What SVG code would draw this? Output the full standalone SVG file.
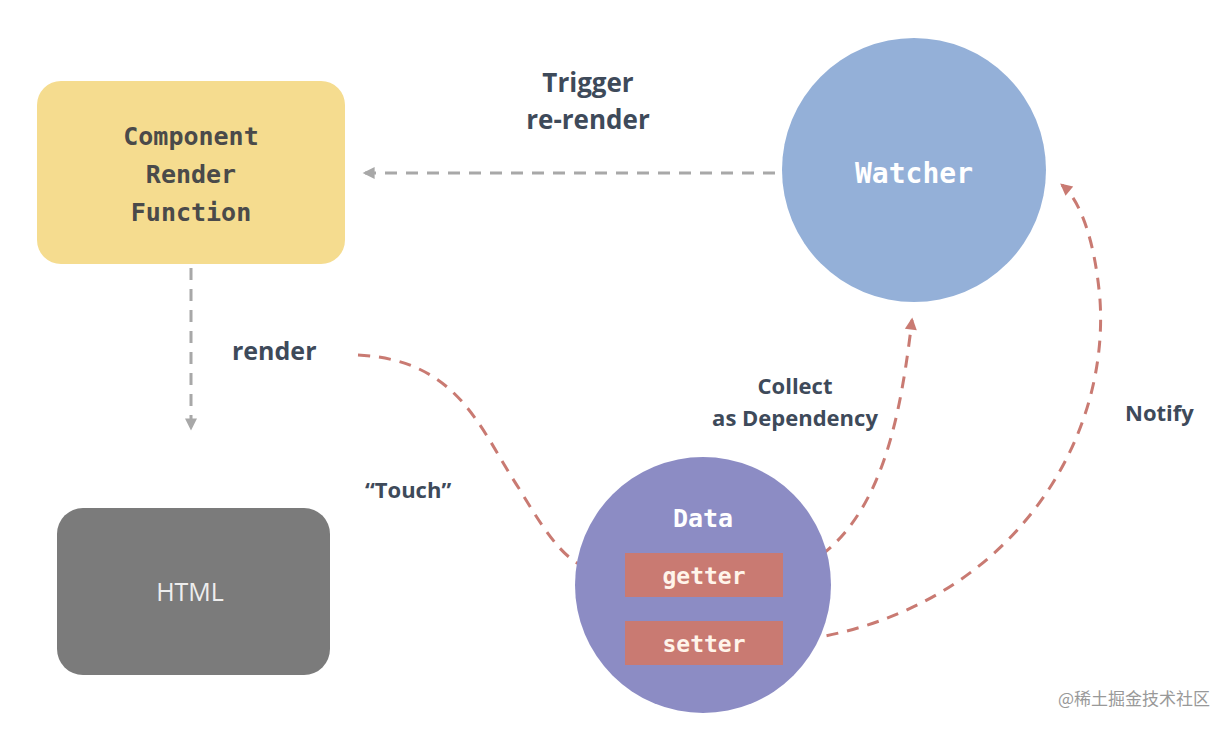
<svg xmlns="http://www.w3.org/2000/svg" width="1230" height="730" viewBox="0 0 1230 730">
<style>
.mono{font-family:"DejaVu Sans Mono","Liberation Mono",monospace;font-weight:bold}
.lbl{font-family:"Open Sans","Liberation Sans",sans-serif;font-weight:bold;fill:#3e4a5a}
.red{fill:none;stroke:#c97a72;stroke-width:3;stroke-dasharray:12 9}
.gray{fill:none;stroke:#a8a8a8;stroke-width:3;stroke-dasharray:12 9}
</style>
<defs>
<marker id="ar" viewBox="0 0 10 10" refX="8" refY="5" markerWidth="6" markerHeight="6" orient="auto" markerUnits="userSpaceOnUse" style="overflow:visible"><path d="M0,0 L10,5 L0,10 z" fill="#c97a72" transform="scale(2) translate(-4,-2.5)"/></marker>
<marker id="ag" viewBox="0 0 10 10" refX="8" refY="5" markerWidth="6" markerHeight="6" orient="auto" markerUnits="userSpaceOnUse" style="overflow:visible"><path d="M0,0 L10,5 L0,10 z" fill="#a8a8a8" transform="scale(2) translate(-4,-2.5)"/></marker>
</defs>
<rect width="1230" height="730" fill="#ffffff"/>
<g id="connectors">
<path class="gray" d="M775,173 L365,173" marker-end="url(#ag)"/>
<path class="gray" d="M191,268 L191,428" marker-end="url(#ag)"/>
<path class="red" d="M358,355 C460,360 480,430 520,490 C550,540 570,570 605,572" marker-end="url(#ar)"/>
<path class="red" d="M785,575 C880,540 900,420 912,320" marker-end="url(#ar)"/>
<path class="red" d="M785,642 C1000,620 1110,450 1100,300 C1095,240 1080,200 1062,185" marker-end="url(#ar)"/>
</g>
<g id="component">
<rect x="37" y="81" width="308" height="183" rx="24" fill="#f5dc8f"/>
<text class="mono" font-size="25" fill="#4a4a4a" text-anchor="middle" x="191" y="145">Component</text>
<text class="mono" font-size="25" fill="#4a4a4a" text-anchor="middle" x="191" y="183">Render</text>
<text class="mono" font-size="25" fill="#4a4a4a" text-anchor="middle" x="191" y="221">Function</text>
</g>
<g id="html">
<rect x="57" y="508" width="273" height="167" rx="26" fill="#7b7b7b"/>
<text x="190" y="601" font-family="Open Sans, Liberation Sans, sans-serif" font-size="25" fill="#eeeeee" text-anchor="middle">HTML</text>
</g>
<g id="watcher">
<circle cx="914" cy="170" r="132" fill="#94b0d8"/>
<text class="mono" font-size="28" fill="#ffffff" text-anchor="middle" x="914" y="183">Watcher</text>
</g>
<g id="data">
<circle cx="703" cy="585" r="128" fill="#8c8cc4"/>
<text class="mono" font-size="25" fill="#ffffff" text-anchor="middle" x="703" y="527">Data</text>
<rect id="getter" x="625" y="553" width="158" height="44" fill="#c97a72"/>
<text class="mono" font-size="23" fill="#fff4ea" text-anchor="middle" x="704" y="584">getter</text>
<rect id="setter" x="625" y="621" width="158" height="44" fill="#c97a72"/>
<text class="mono" font-size="23" fill="#fff4ea" text-anchor="middle" x="704" y="652">setter</text>
</g>
<g id="labels">
<text class="lbl" font-size="26" text-anchor="middle" x="588" y="92">Trigger</text>
<text class="lbl" font-size="26" text-anchor="middle" x="588" y="129">re-render</text>
<text class="lbl" font-size="25" x="232" y="360">render</text>
<text class="lbl" font-size="22" x="365" y="498">“Touch”</text>
<text class="lbl" font-size="22" text-anchor="middle" x="795" y="394">Collect</text>
<text class="lbl" font-size="22" text-anchor="middle" x="795" y="426">as Dependency</text>
<text class="lbl" font-size="22" x="1125" y="421">Notify</text>
<text x="1210" y="705" text-anchor="end" font-family="Noto Sans CJK SC, sans-serif" font-size="17" fill="#999999">@稀土掘金技术社区</text>
</g>
</svg>
